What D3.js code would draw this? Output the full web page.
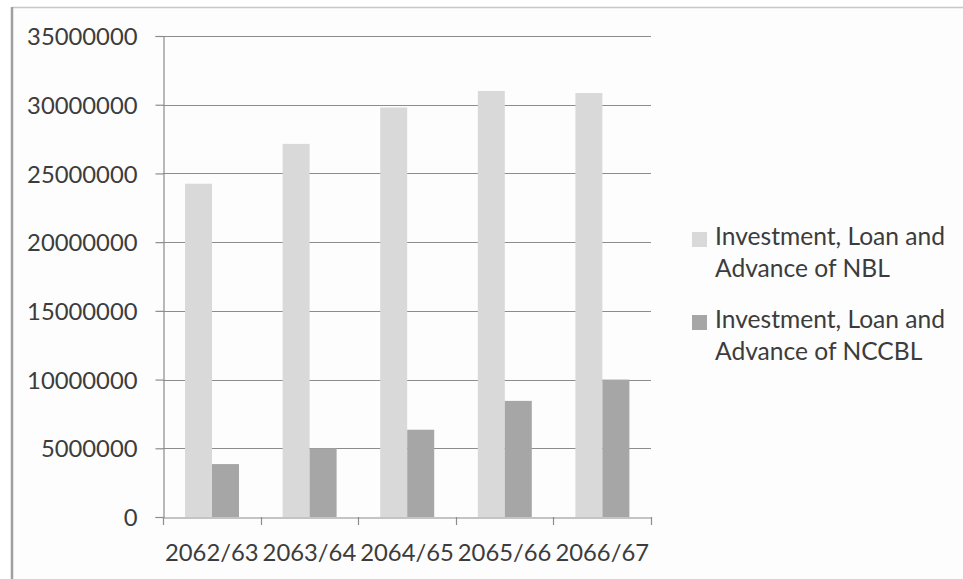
<!DOCTYPE html>
<html><head><meta charset="utf-8">
<script src="https://cdn.jsdelivr.net/npm/d3@7"></script>
<style>body{margin:0;background:#fff}svg{display:block}text{font-family:Lato,"Open Sans",sans-serif;fill:#3c3c3c}</style>
</head><body><svg id="c" width="963" height="579"></svg>
<script>
const categories = ["2062/63","2063/64","2064/65","2065/66","2066/67"];
const seriesNames = ["Investment, Loan and Advance of NBL","Investment, Loan and Advance of NCCBL"];
const nbl = [24250000, 27150000, 29800000, 31000000, 30850000];
const nccbl = [3850000, 5000000, 6350000, 8450000, 10000000];
const yTicks = [0,5000000,10000000,15000000,20000000,25000000,30000000,35000000];
const legendLines = [["Investment, Loan and","Advance of NBL"],["Investment, Loan and","Advance of NCCBL"]];
const colors = ["#d9d9d9","#a6a6a6"];

const svg = d3.select("#c");
svg.append("rect").attr("x",12).attr("y",7).attr("width",951).attr("height",572).attr("fill","#fdfdfd");
svg.append("line").attr("x1",12).attr("x2",963).attr("y1",7.5).attr("y2",7.5).attr("stroke","#c8c8c8").attr("stroke-width",1.5);
svg.append("line").attr("x1",12).attr("x2",12).attr("y1",7).attr("y2",579).attr("stroke","#a0a0a0").attr("stroke-width",2.5);

const x0 = 163, x1 = 651, yBot = 517, yTop = 36;
const x = d3.scaleBand().domain(categories).range([x0,x1]).paddingInner(0).paddingOuter(0);
const y = d3.scaleLinear().domain([0,35000000]).range([yBot,yTop]);

// gridlines
svg.append("g").selectAll("line").data(yTicks.slice(1)).join("line")
  .attr("x1",x0).attr("x2",x1).attr("y1",d=>Math.round(y(d))+0.5).attr("y2",d=>Math.round(y(d))+0.5)
  .attr("stroke","#8c8c8c").attr("stroke-width",1.2);

// bars
const bw = 27, off = 22;
const data = categories.map((c,i)=>({c, v:[nbl[i], nccbl[i]]}));
const g = svg.append("g");
data.forEach(d=>{
  d.v.forEach((v,k)=>{
    g.append("rect").attr("x",x(d.c)+off+k*bw).attr("y",y(v)).attr("width",bw).attr("height",yBot-y(v)).attr("fill",colors[k]);
  });
});

// y axis
const yAxis = d3.axisLeft(y).tickValues(yTicks).tickFormat(d3.format("d")).tickSize(8).tickPadding(18);
const ya = svg.append("g").attr("transform",`translate(${x0+0.5},0)`).call(yAxis);
ya.select(".domain").attr("stroke","#8c8c8c").attr("stroke-width",1.2);
ya.selectAll(".tick line").attr("stroke","#8c8c8c").attr("stroke-width",1.2);
ya.selectAll("text").style("font-size","23.8px").attr("fill","#3c3c3c").attr("dy","0.36em");

// x axis
const xAxis = d3.axisBottom(x).tickSize(0).tickPadding(0);
const xa = svg.append("g").attr("transform",`translate(0,${yBot+0.5})`).call(xAxis);
xa.select(".domain").attr("stroke","#8c8c8c").attr("stroke-width",1.2);
xa.selectAll("text").style("font-size","23.8px").attr("fill","#3c3c3c").attr("y",43).attr("dy",0);
const xTickPos = categories.map(c=>x(c)).concat([x1]);
svg.append("g").selectAll("line").data(xTickPos).join("line")
  .attr("x1",d=>Math.round(d)+0.5).attr("x2",d=>Math.round(d)+0.5).attr("y1",yBot).attr("y2",yBot+8)
  .attr("stroke","#8c8c8c").attr("stroke-width",1.2);

// legend
const lg = svg.append("g");
legendLines.forEach((lines,i)=>{
  const by = 245 + i*83;
  lg.append("rect").attr("x",692).attr("y",by-13).attr("width",15).attr("height",15).attr("fill",colors[i]);
  lines.forEach((t,j)=>{
    lg.append("text").attr("x",715).attr("y",by+j*32).style("font-size","24.6px").text(t);
  });
});
</script></body></html>
